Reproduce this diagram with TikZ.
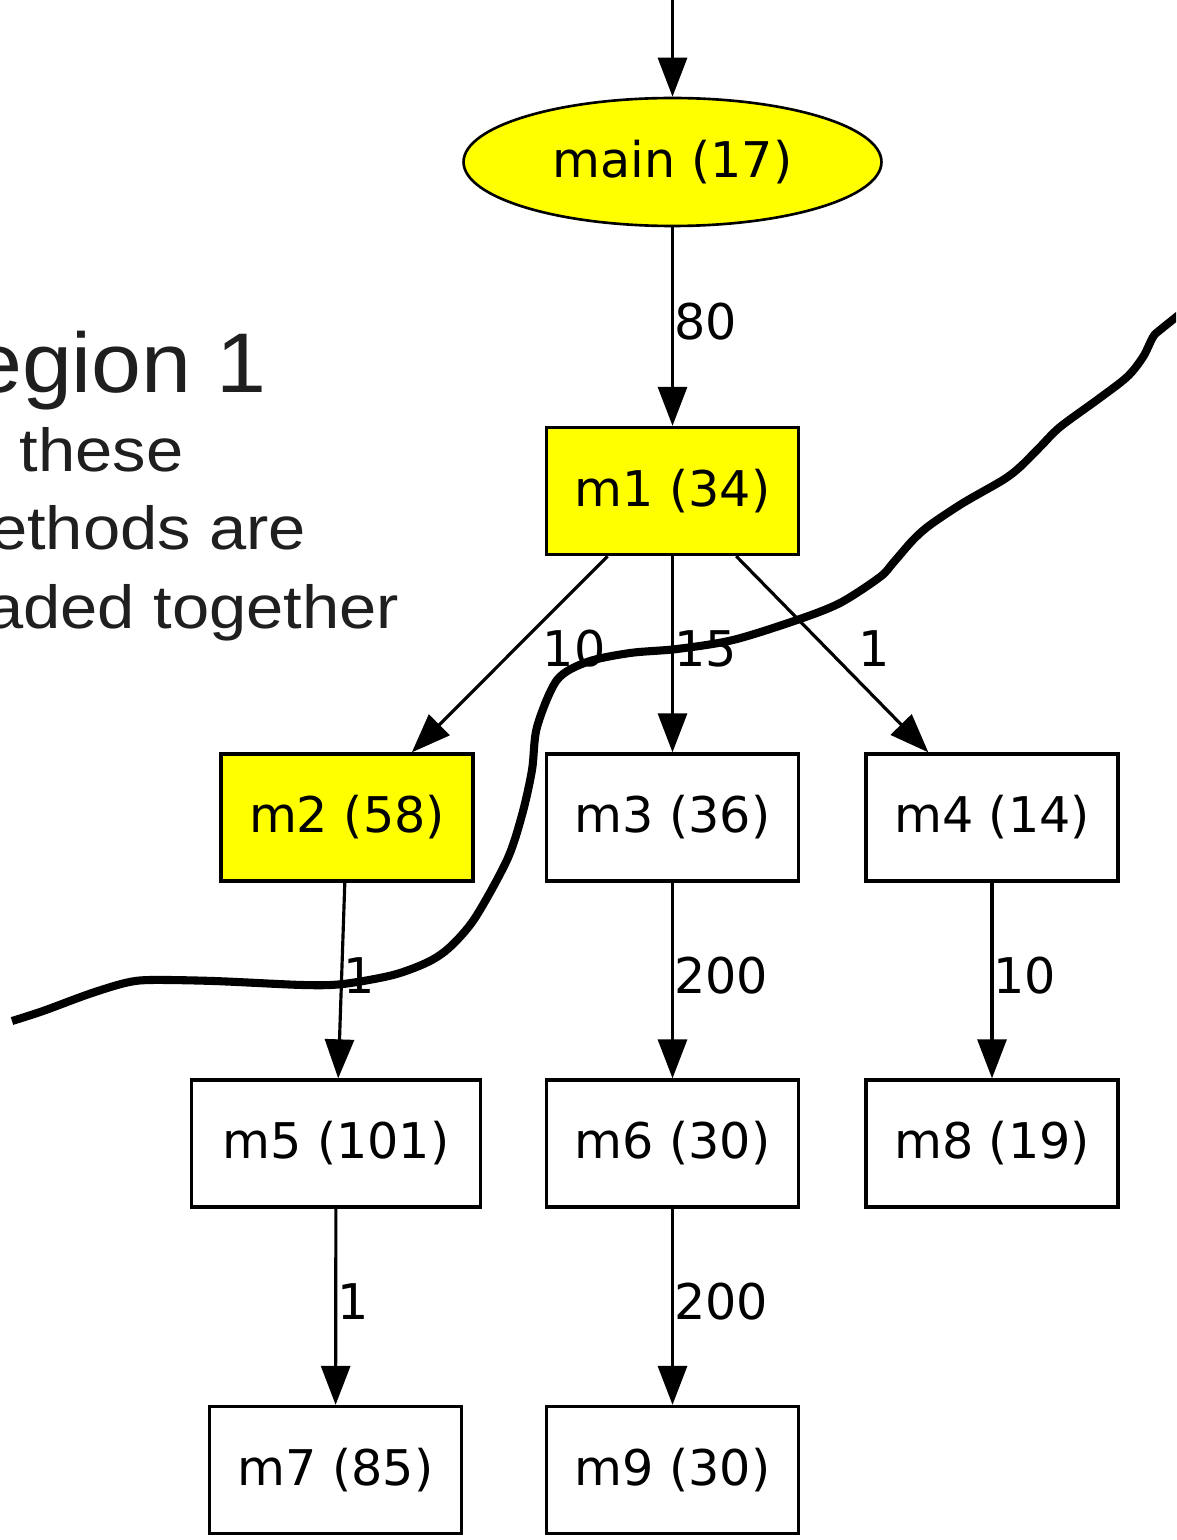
\documentclass[tikz,border=0pt]{standalone}
\usepackage{fontspec}
\usepackage{tikz}
\usetikzlibrary{arrows.meta,shapes.geometric}
\newfontfamily\dotfont{DejaVu Sans}
\newfontfamily\notefont{Liberation Sans}
\newcommand{\wide}[2]{\scalebox{#1}[1]{#2}}
\definecolor{dotyellow}{RGB}{255,255,0}

\tikzset{
  meth/.style={draw, line width=1.9pt, rectangle, inner sep=0pt,
    minimum width=5.04cm, minimum height=2.54cm,
    font=\dotfont\fontsize{28}{34}\selectfont},
  hot/.style={fill=dotyellow},
  call/.style={line width=1.8pt, -{Triangle[length=7.8mm,width=5.8mm]}},
  cnt/.style={font=\dotfont\fontsize{28}{34}\selectfont, inner sep=0pt,
    anchor=west, yshift=3pt},
  border/.style={line width=4.6pt},
}

\begin{document}
\begin{tikzpicture}[x=0.02cm, y=-0.02cm]
\useasboundingbox (0,0) rectangle (1176,1540);
\clip (0,0) rectangle (1176,1540);

\node[text=black!88, inner sep=0pt, anchor=base west,
  font=\notefont\fontsize{48.2}{58}\selectfont] (title) at (-93,393)
  {\wide{1.06}{Region 1}};
% base anchor sits on the last line
\node[text=black!88, inner sep=0pt, anchor=base west, align=left,
  font=\notefont\fontsize{34.6}{44.5}\selectfont] (note) at (-66,628)
  {\wide{1.1}{all these}\\ \wide{1.1}{methods are}\\ \wide{1.1}{loaded together}};

\coordinate (entry) at (672.5,-20);
\node[meth, hot, shape=ellipse, line width=1.5pt,
  minimum width=8.36cm, minimum height=2.56cm] (main) at (672.5,162) {main (17)};
\node[meth, hot] (m1) at (672.5,491) {m1 (34)};
\node[meth, hot] (m2) at (347,817.5) {m2 (58)};
\node[meth] (m3) at (672.5,817.5) {m3 (36)};
\node[meth] (m4) at (992,817.5) {m4 (14)};
\node[meth, minimum width=5.78cm] (m5) at (336,1143.5) {m5 (101)};
\node[meth] (m6) at (672.5,1143.5) {m6 (30)};
\node[meth] (m8) at (992,1143.5) {m8 (19)};
\node[meth] (m7) at (335.5,1470) {m7 (85)};
\node[meth] (m9) at (672.5,1470) {m9 (30)};

\path[call]
  (entry) edge (main)
  (main) edge node[cnt] {80} (m1)
  (m1) edge node[cnt, xshift=18pt] {10} (m2)
  (m1) edge node[cnt] {15} (m3)
  (m1) edge node[cnt, xshift=14pt] {1} (m4)
  (m2) edge node[cnt] {1} (m5)
  (m3) edge node[cnt] {200} (m6)
  (m4) edge node[cnt] {10} (m8)
  (m5) edge node[cnt] {1} (m7)
  (m6) edge node[cnt] {200} (m9);

\draw[border] plot[smooth, tension=0.5] coordinates {
  (12,1021) (43,1011) (89,994) (125,983) (150,980) (214,981) (303,985)
  (343,984) (393,975) (428,962) (450,947) (475,918) (507,860) (522,815)
  (532,770) (537,727) (557,680) (587,662) (630,653) (677,649) (733,640)
  (797,620) (840,603) (880,577) (893,563) (913,540) (930,525) (963,503)
  (1003,480) (1020,467) (1040,447) (1060,427) (1097,400) (1127,377)
  (1143,357) (1153,337) (1160,330) (1185,310)};
\end{tikzpicture}
\end{document}
